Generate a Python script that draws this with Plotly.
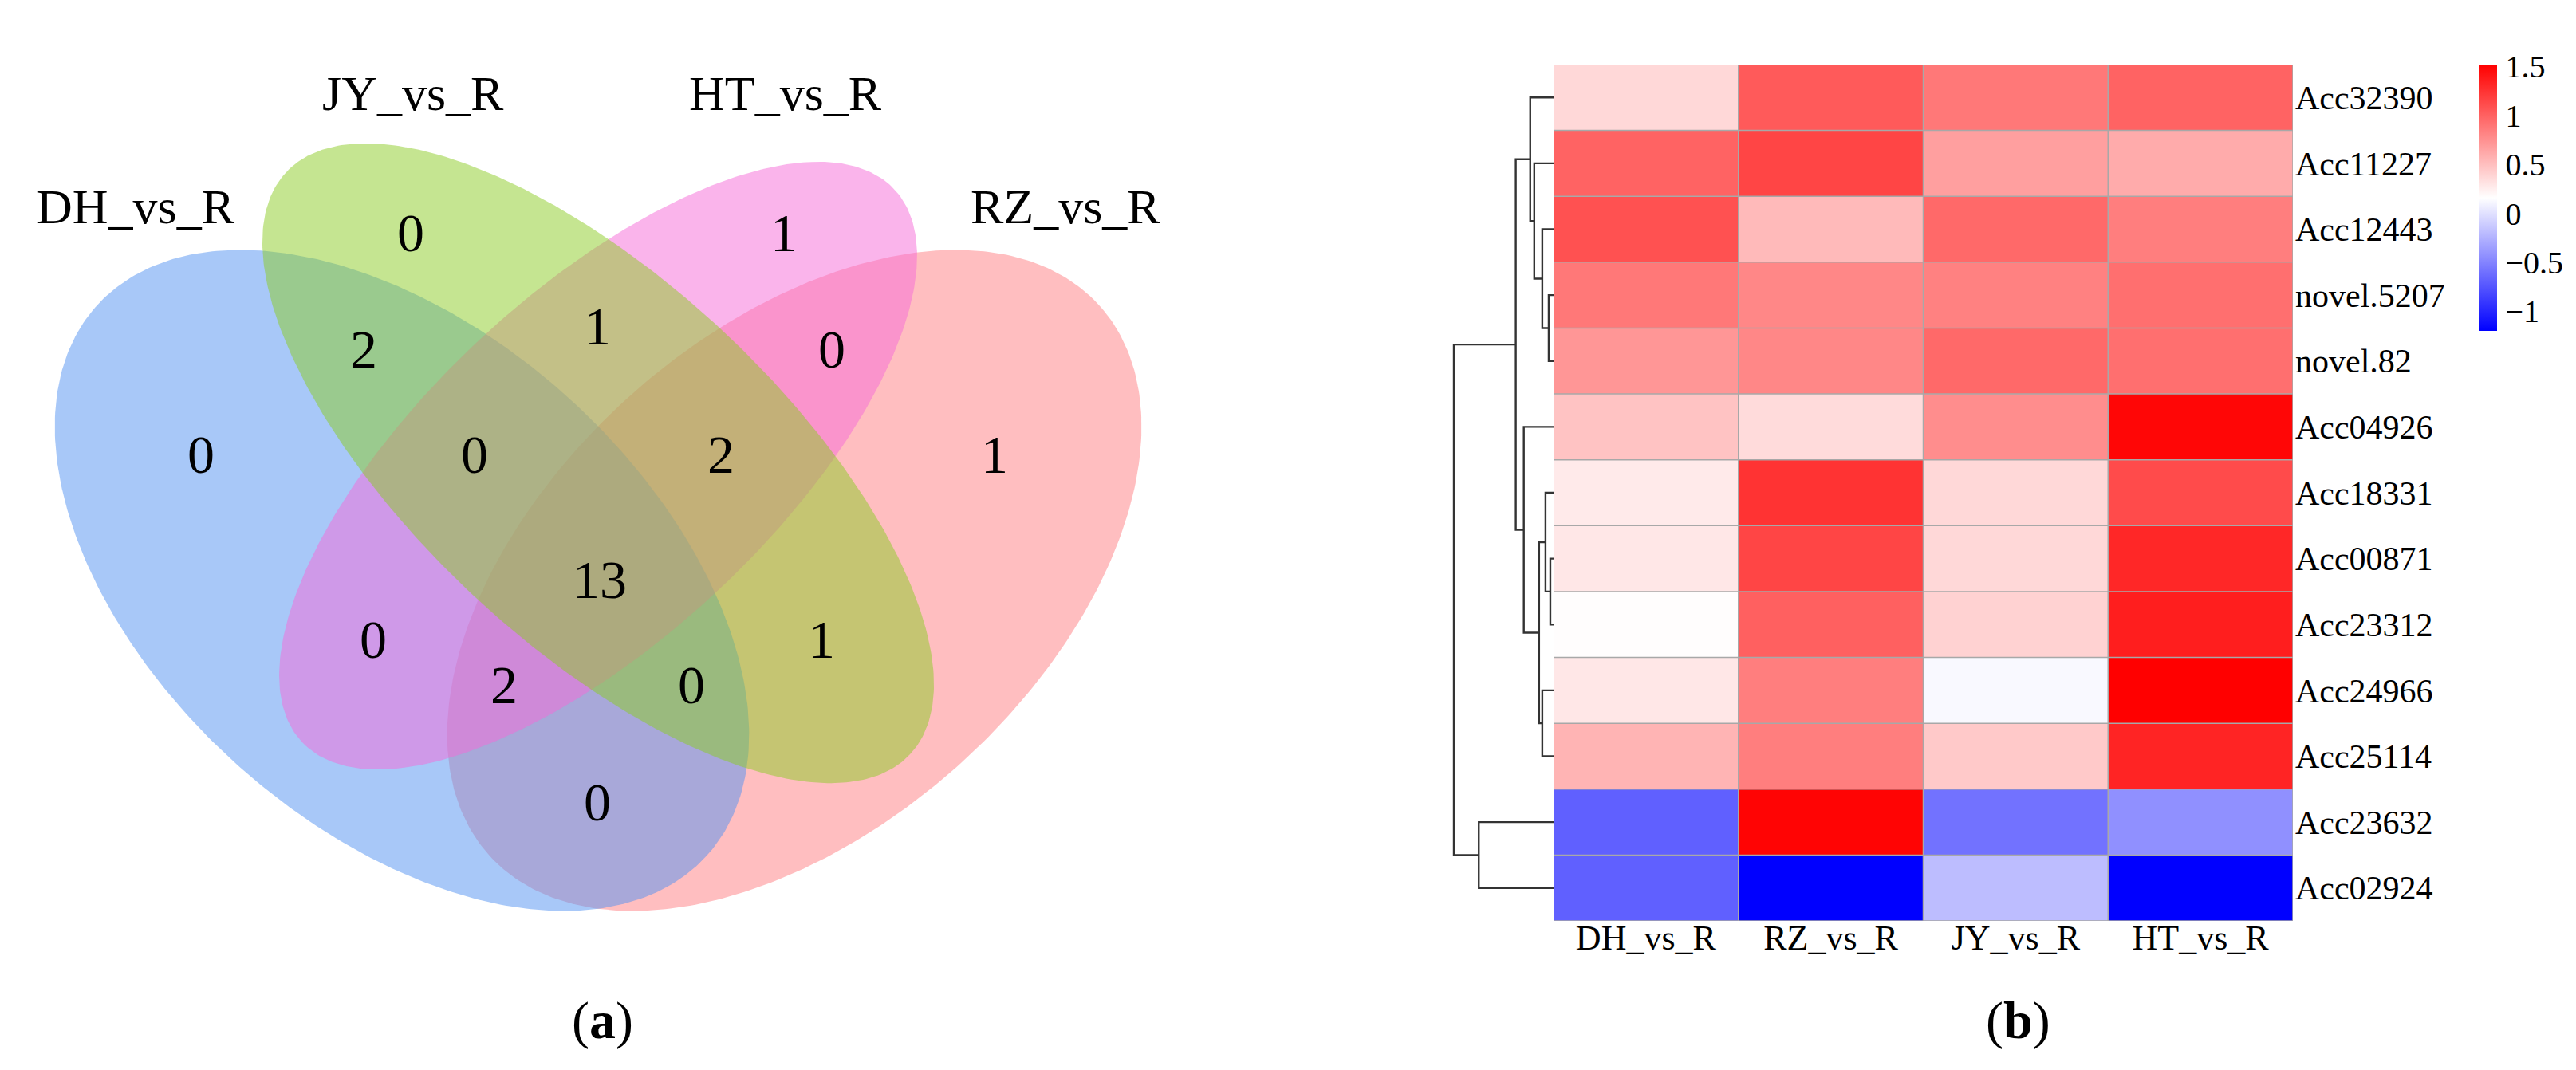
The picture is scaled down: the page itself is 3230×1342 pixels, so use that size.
import numpy as np
import plotly.graph_objects as go

FIG_W, FIG_H = 3230, 1342
FONT = "Liberation Serif"

# ---------------- Venn data ----------------
venn_sets = ["DH_vs_R", "JY_vs_R", "HT_vs_R", "RZ_vs_R"]
venn_regions = ["DH", "JY", "HT", "RZ", "DH&JY", "JY&HT", "HT&RZ", "DH&JY&HT",
                "JY&HT&RZ", "DH&JY&HT&RZ", "DH&HT", "JY&RZ", "DH&HT&RZ",
                "DH&JY&RZ", "DH&RZ"]
venn_counts = [0, 0, 1, 1, 2, 1, 0, 0, 2, 13, 0, 1, 2, 0, 0]

# ---------------- Heatmap data ----------------
hm_cols = ["DH_vs_R", "RZ_vs_R", "JY_vs_R", "HT_vs_R"]
hm_rows = ["Acc32390", "Acc11227", "Acc12443", "novel.5207", "novel.82",
           "Acc04926", "Acc18331", "Acc00871", "Acc23312", "Acc24966",
           "Acc25114", "Acc23632", "Acc02924"]
dh_vals = [0.37, 0.99, 1.09, 0.88, 0.72, 0.48, 0.27, 0.29, 0.17, 0.29, 0.56, -0.69, -0.69]
rz_vals = [1.04, 1.15, 0.53, 0.80, 0.80, 0.35, 1.25, 1.15, 1.01, 0.85, 0.85, 1.50, -1.20]
jy_vals = [0.88, 0.67, 0.96, 0.83, 0.96, 0.77, 0.37, 0.37, 0.40, 0.13, 0.45, -0.59, -0.19]
ht_vals = [0.99, 0.61, 0.85, 0.93, 0.93, 1.49, 1.12, 1.31, 1.36, 1.52, 1.33, -0.43, -1.20]
cb_tickvals = [1.5, 1, 0.5, 0, -0.5, -1]
cb_ticktext = ["1.5", "1", "0.5", "0", "\u22120.5", "\u22121"]
z_min, z_max = -1.2, 1.52

# Row dendrogram (hierarchical clustering linkage: child ids, merge height)
link_left = [3, 7, 9, 2, 6, 1, 17, 0, 5, 11, 20, 23]
link_right = [4, 8, 10, 13, 14, 16, 15, 18, 19, 12, 21, 22]
link_height = [0.6, 0.4, 1.4, 1.4, 1.0, 2.4, 1.8, 2.9, 3.7, 9.3, 4.7, 12.4]

# ---------------- layout constants (pixels) ----------------
venn_px_w = 1600
ellipse_style = {   # centre x, centre y, semi-major, semi-minor, angle(deg), fill
    "RZ_vs_R": (988, 720, 515, 310, 138.0, "rgba(255,125,129,0.5)"),
    "DH_vs_R": (496, 720, 515, 310, 42.0, "rgba(81,145,241,0.5)"),
    "HT_vs_R": (742, 576, 508, 217, 137.0, "rgba(245,105,215,0.5)"),
    "JY_vs_R": (742, 573, 535, 228, 43.0, "rgba(139,203,35,0.5)"),
}
draw_order = ["RZ_vs_R", "DH_vs_R", "HT_vs_R", "JY_vs_R"]
set_label_pos = {"DH_vs_R": (162, 251), "JY_vs_R": (510, 109),
                 "HT_vs_R": (977, 109), "RZ_vs_R": (1328, 251)}
region_pos = {"DH": (244, 562), "JY": (507, 284), "HT": (975, 284), "RZ": (1239, 562),
              "DH&JY": (448, 430), "JY&HT": (741, 401), "HT&RZ": (1035, 430),
              "DH&JY&HT": (587, 562), "JY&HT&RZ": (896, 562), "DH&JY&HT&RZ": (744, 719),
              "DH&HT": (460, 794), "JY&RZ": (1022, 794), "DH&HT&RZ": (624, 851),
              "DH&JY&RZ": (859, 851), "DH&RZ": (741, 998)}

hm_left, hm_right, hm_top, hm_bottom = 1940, 2867, 73, 1147
dendro_left = 1800

fig = go.Figure()

# ---------------- Venn ellipses ----------------
t = np.linspace(0, 2 * np.pi, 400)
for name in draw_order:
    cx, cy, a, b, ang, fill = ellipse_style[name]
    th = np.deg2rad(ang)
    ex = cx + a * np.cos(t) * np.cos(th) - b * np.sin(t) * np.sin(th)
    ey = cy + a * np.cos(t) * np.sin(th) + b * np.sin(t) * np.cos(th)
    fig.add_trace(go.Scatter(x=ex, y=ey, mode="lines", fill="toself",
                             fillcolor=fill, line=dict(width=0),
                             hoverinfo="skip", showlegend=False,
                             xaxis="x", yaxis="y"))

annotations = []
for name in venn_sets:
    x, y = set_label_pos[name]
    annotations.append(dict(x=x, y=y, xref="x", yref="y", text=name, showarrow=False,
                            xanchor="center", yanchor="middle",
                            font=dict(family=FONT, size=62, color="black")))
for reg, cnt in zip(venn_regions, venn_counts):
    x, y = region_pos[reg]
    annotations.append(dict(x=x, y=y, xref="x", yref="y", text=str(cnt), showarrow=False,
                            xanchor="center", yanchor="middle",
                            font=dict(family=FONT, size=68, color="black")))
annotations.append(dict(x=747, y=1272, xref="x", yref="y", text="(<b>a</b>)", showarrow=False,
                        xanchor="center", yanchor="middle",
                        font=dict(family=FONT, size=66, color="black")))
annotations.append(dict(x=2522 / FIG_W, y=1 - 1272 / FIG_H, xref="paper", yref="paper",
                        text="(<b>b</b>)", showarrow=False,
                        xanchor="center", yanchor="middle",
                        font=dict(family=FONT, size=66, color="black")))

# ---------------- Heatmap ----------------
z = np.array([dh_vals, rz_vals, jy_vals, ht_vals]).T
fig.add_trace(go.Heatmap(
    z=z, x=list(range(len(hm_cols))), y=list(range(len(hm_rows))),
    zmin=z_min, zmax=z_max,
    colorscale=[[0, "rgb(0,0,255)"], [0.5, "rgb(255,255,255)"], [1, "rgb(255,0,0)"]],
    xaxis="x2", yaxis="y2",
    colorbar=dict(x=3100 / FIG_W, xanchor="left", y=1 - 73 / FIG_H, yanchor="top",
                  len=334, lenmode="pixels", thickness=23, thicknessmode="pixels",
                  xpad=0, ypad=0, outlinewidth=0,
                  tickvals=cb_tickvals, ticktext=cb_ticktext,
                  ticks="outside", ticklen=3, tickcolor="rgba(0,0,0,0)",
                  tickfont=dict(family=FONT, size=40, color="black")),
    hoverinfo="skip"))

shapes = []
ncol, nrow = len(hm_cols), len(hm_rows)
for i in range(ncol + 1):
    shapes.append(dict(type="line", xref="x2", yref="y2", x0=i - 0.5, x1=i - 0.5,
                       y0=-0.5, y1=nrow - 0.5, line=dict(color="#A8A8A8", width=1.5)))
for j in range(nrow + 1):
    shapes.append(dict(type="line", xref="x2", yref="y2", x0=-0.5, x1=ncol - 0.5,
                       y0=j - 0.5, y1=j - 0.5, line=dict(color="#A8A8A8", width=1.5)))

# ---------------- Dendrogram ----------------
pos = {i: float(i) for i in range(nrow)}
hgt = {i: 0.0 for i in range(nrow)}
dx, dy = [], []
for k, (l, r, h) in enumerate(zip(link_left, link_right, link_height)):
    node = nrow + k
    dx += [hgt[l], h, h, hgt[r], None]
    dy += [pos[l], pos[l], pos[r], pos[r], None]
    pos[node] = (pos[l] + pos[r]) / 2
    hgt[node] = h
fig.add_trace(go.Scatter(x=dx, y=dy, mode="lines", line=dict(color="#333333", width=2.4),
                         hoverinfo="skip", showlegend=False, xaxis="x3", yaxis="y2"))
dendro_range_max = max(link_height) * (hm_left - dendro_left) / (hm_left - 1815)

fig.update_layout(
    width=FIG_W, height=FIG_H,
    margin=dict(l=0, r=0, t=0, b=0),
    paper_bgcolor="white", plot_bgcolor="rgba(0,0,0,0)",
    showlegend=False,
    xaxis=dict(domain=[0, venn_px_w / FIG_W], range=[0, venn_px_w], visible=False,
               anchor="y", fixedrange=True),
    yaxis=dict(domain=[0, 1], range=[FIG_H, 0], visible=False, anchor="x", fixedrange=True),
    xaxis2=dict(domain=[hm_left / FIG_W, hm_right / FIG_W], range=[-0.5, ncol - 0.5],
                tickvals=list(range(ncol)), ticktext=hm_cols, ticks="", showgrid=False,
                zeroline=False, showline=False, anchor="y2", side="bottom",
                ticklabelstandoff=-9,
                tickfont=dict(family=FONT, size=44, color="black")),
    yaxis2=dict(domain=[1 - hm_bottom / FIG_H, 1 - hm_top / FIG_H], range=[nrow - 0.5, -0.5],
                tickvals=list(range(nrow)), ticktext=hm_rows, ticks="", showgrid=False,
                zeroline=False, showline=False, anchor="x2", side="right",
                ticklabelstandoff=2,
                tickfont=dict(family=FONT, size=42, color="black")),
    xaxis3=dict(domain=[dendro_left / FIG_W, hm_left / FIG_W], range=[dendro_range_max, 0],
                visible=False, anchor="y2"),
    annotations=annotations,
    shapes=shapes,
)

fig.write_html("out.html")
